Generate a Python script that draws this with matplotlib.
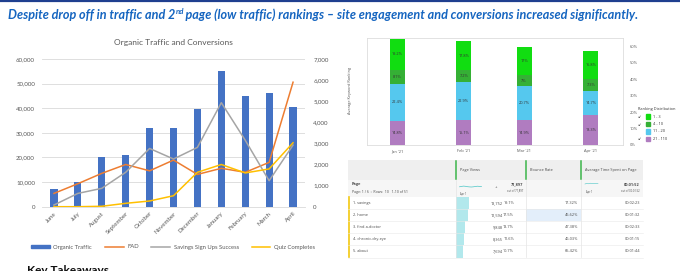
import numpy as np
import matplotlib
matplotlib.use("Agg")
import matplotlib.pyplot as plt
from matplotlib.patches import Rectangle, Patch
from matplotlib.lines import Line2D

W, H = 680, 271

# left chart data
months = ["June", "July", "August", "September", "October", "November",
          "December", "January", "February", "March", "April"]
organic_traffic = [7000, 10000, 20000, 21000, 31800, 31800, 39500, 55200, 45000, 46000, 40700]
fad = [630, 1090, 1580, 2000, 1700, 2210, 1530, 1820, 1630, 2100, 5900]
savings = [80, 630, 870, 1630, 2760, 2260, 2810, 4930, 3150, 1230, 2920]
quiz = [0, 0, 20, 160, 270, 520, 1630, 2000, 1600, 1790, 3030]

# ranking distribution data (percent)
rank_dates = ["2021-01-01", "2021-02-01", "2021-03-01", "2021-04-01"]
rank_labels = ["Jan '21", "Feb '21", "Mar '21", "Apr '21"]
rank_21_110 = [14.8, 15.1, 14.9, 18.3]
rank_11_20 = [22.4, 22.9, 20.7, 14.7]
rank_4_10 = [8.1, 7.2, 7.0, 7.3]
rank_1_3 = [19.2, 17.8, 17.0, 16.8]

# table data
pages = ["1. savings", "2. home", "3. find-a-doctor", "4. chronic-dry-eye", "5. about"]
page_views = [13752, 12594, 9848, 8365, 7694]
total_views = 71897
bounce_rate = ["17.32%", "45.62%", "47.38%", "46.03%", "65.42%"]
avg_time = ["00:02:23", "00:01:32", "00:02:33", "00:01:15", "00:01:44"]
pv_spark = [3.2, 3.6, 3.9, 3.7, 3.3, 3.1, 3.0, 3.2, 3.5, 3.8, 3.6, 3.4]
time_spark = [2.0, 2.6, 2.2, 2.8, 2.4, 2.7, 2.3, 2.5]

plt.rcParams['font.family'] = ['Lato', 'DejaVu Sans']

fig = plt.figure(figsize=(W / 100, H / 100), dpi=100)
fig.patch.set_facecolor("white")


def fx(x):
    return x / W


def fy(y):
    return 1 - y / H


# overlay in pixel coords
ov = fig.add_axes([0, 0, 1, 1])
ov.set_xlim(0, W)
ov.set_ylim(H, 0)
ov.axis("off")

ov.plot([0, W], [1.2, 1.2], color="#1f3f8f", lw=1.6)

# slide title with superscript
r = fig.canvas.get_renderer()
tkw = dict(fontsize=9.1, fontweight="bold", fontstyle="italic", color="#1565c0", va="baseline")
t1 = fig.text(fx(8), fy(19), "Despite drop off in traffic and 2", **tkw)
bb = t1.get_window_extent(r)
t2 = fig.text(bb.x1 / W, fy(14.5), "nd", **{**tkw, "fontsize": 5.6})
bb2 = t2.get_window_extent(r)
fig.text(bb2.x1 / W, fy(19),
         "\u2009page (low traffic) rankings \u2013 site engagement and conversions increased significantly.",
         **tkw)

fig.text(fx(27), fy(264.5), "Key Takeaways", fontsize=8.5, fontweight="bold", color="#111111", va="top")

# ---------------- left chart ----------------
ax = fig.add_axes([fx(42), fy(206.7), (305 - 42) / W, (206.7 - 59) / H])
x = np.arange(len(months))
ax.bar(x, organic_traffic, width=0.3, color="#4472c4", zorder=2)
ax.set_ylim(0, 60000)
ax.set_xlim(-0.5, len(months) - 0.5)
ax.set_yticks(np.arange(0, 60001, 10000))
ax.set_yticklabels([f"{v:,}" for v in range(0, 60001, 10000)])
ax.grid(axis="y", color="#d9d9d9", lw=0.6, zorder=0)
ax.set_axisbelow(True)
for s in ["top", "right", "left"]:
    ax.spines[s].set_visible(False)
ax.spines["bottom"].set_color("#d9d9d9")
ax.spines["bottom"].set_linewidth(0.6)
ax.tick_params(axis="both", length=0, labelsize=4.4, labelcolor="#595959")
ax.tick_params(axis="y", pad=5)
ax.set_xticks(x)
ax.set_xticklabels(months, rotation=45, ha="right", rotation_mode="anchor")
ax.tick_params(axis="x", pad=3)
ax.set_title("Organic Traffic and Conversions", fontsize=6, color="#595959", pad=10)

ax_r = ax.twinx()
ax_r.plot(x, fad, color="#ed7d31", lw=1.1, zorder=3)
ax_r.plot(x, savings, color="#a5a5a5", lw=1.1, zorder=3)
ax_r.plot(x, quiz, color="#ffc000", lw=1.1, zorder=3)
ax_r.set_ylim(0, 7000)
ax_r.set_yticks(np.arange(0, 7001, 1000))
ax_r.set_yticklabels([f"{v:,}" for v in range(0, 7001, 1000)])
for s in ax_r.spines.values():
    s.set_visible(False)
ax_r.tick_params(axis="y", length=0, labelsize=4.4, labelcolor="#595959", pad=6)

handles = [Patch(color="#4472c4"),
           Line2D([], [], color="#ed7d31", lw=1.1),
           Line2D([], [], color="#a5a5a5", lw=1.1),
           Line2D([], [], color="#ffc000", lw=1.1)]
fig.legend(handles, ["Organic Traffic", "FAD", "Savings Sign Ups Success", "Quiz Completes"],
           loc="center", bbox_to_anchor=(fx(173), fy(247)), ncol=4, frameon=False,
           fontsize=4.2, labelcolor="#595959", handlelength=3.2, handleheight=0.6,
           columnspacing=2.2, handletextpad=0.6)

# ---------------- ranking stacked chart ----------------
ax2 = fig.add_axes([fx(367), fy(145), (623 - 367) / W, (145 - 38.3) / H])
dates = np.array(rank_dates, dtype="datetime64[D]")
segments = [(rank_21_110, "#b07cc0"), (rank_11_20, "#55c8ee"),
            (rank_4_10, "#35b035"), (rank_1_3, "#11dd11")]
bottom = np.zeros(len(dates))
for vals, col in segments:
    ax2.bar(dates, vals, width=7, bottom=bottom, color=col, zorder=2)
    for d, v, b in zip(dates, vals, bottom):
        ax2.text(d, b + v / 2, ("%g" % v) + "%", ha="center", va="center",
                 fontsize=2.8, color="#333333", family="Open Sans")
    bottom = bottom + np.array(vals)
ax2.set_xlim(np.datetime64("2020-12-18"), np.datetime64("2021-04-16"))
ax2.set_ylim(0, 64.7)
ax2.set_xticks(dates)
ax2.set_xticklabels(rank_labels)
ax2.yaxis.tick_right()
ax2.set_yticks(np.arange(0, 61, 10))
ax2.set_yticklabels([f"{v}%" for v in range(0, 61, 10)])
ax2.tick_params(length=0, labelsize=2.9, labelcolor="#555555")
ax2.tick_params(axis="y", pad=5)
ax2.tick_params(axis="x", pad=3)
for lbl in ax2.get_xticklabels() + ax2.get_yticklabels():
    lbl.set_family("Open Sans")
for s in ax2.spines.values():
    s.set_color("#dddddd")
    s.set_linewidth(0.6)
fig.text(fx(350), fy(90), "Average Keyword Ranking", rotation=90, ha="center", va="center",
         fontsize=2.8, color="#555555", family="Open Sans")

# ranking legend
ov.text(638, 109, "Ranking Distribution", fontsize=2.8, color="#333333", va="center",
        family="Open Sans")
leg_names = ["1 - 3", "4 - 10", "11 - 20", "21 - 110"]
leg_cols = ["#11dd11", "#35b035", "#55c8ee", "#b07cc0"]
leg_check = [True, True, False, True]
for i, (nm, col, chk) in enumerate(zip(leg_names, leg_cols, leg_check)):
    yy = 116.7 + i * 7.4
    ov.add_patch(Rectangle((645.5, yy - 2.4), 4.8, 4.8, color=col))
    ov.text(653, yy, nm, fontsize=2.8, color="#333333", va="center", family="Open Sans")
    if chk:
        ov.text(639.5, yy + 0.6, "\u2199", fontsize=3.2, color="#333333", va="center",
                ha="center", family="DejaVu Sans")

# ---------------- table ----------------
tx0, tx1 = 348, 643
col_pv, col_br, col_at = 455.5, 526, 581
ov.add_patch(Rectangle((tx0, 160), tx1 - tx0, 20, color="#efefef", lw=0))
ov.add_patch(Rectangle((tx0, 180), tx1 - tx0, 17, color="#f6f6f6", lw=0))
for cx in [col_pv, col_br, col_at]:
    ov.plot([cx, cx], [161, 179], color="#3cb54a", lw=1.1)
    ov.plot([cx, cx], [180, 257], color="#e4e4e4", lw=0.5)
tfs = 2.8
tk = dict(family="Open Sans", color="#4a4a4a", va="center")
ov.text(col_pv + 4, 170, "Page Views", fontsize=tfs, **tk)
ov.text(col_br + 4, 170, "Bounce Rate", fontsize=tfs, **tk)
ov.text(col_at + 4, 170, "Average Time Spent on Page", fontsize=tfs, **tk)

ov.text(352, 184.5, "Page", fontsize=tfs, fontweight="bold", **tk)
ov.text(352, 192, "Page: 1 / 6  \u203a  Rows:  10   1-10 of 51", fontsize=2.5, **tk)
sx = np.linspace(col_pv + 4, col_pv + 26, len(pv_spark))
ov.plot(sx, 190 - np.array(pv_spark), color="#49c5c5", lw=0.5)
ov.text(col_pv + 5, 194.5, "Apr 1", fontsize=1.8, **tk)
ov.text(495, 187, "+", fontsize=3.2, **tk)
ov.text(523, 184.5, f"{total_views:,}", fontsize=tfs, fontweight="bold", ha="right", **tk)
ov.text(523, 190.5, f"out of {total_views:,}", fontsize=1.9, ha="right", **tk)
sx2 = np.linspace(col_at + 4, col_at + 17, len(time_spark))
ov.plot(sx2, 186 - np.array(time_spark), color="#49c5c5", lw=0.4)
ov.text(col_at + 5, 192.5, "Apr 1", fontsize=1.8, **tk)
ov.text(640, 184.5, "00:01:52", fontsize=tfs, fontweight="bold", ha="right", **tk)
ov.text(640, 190.5, "out of 00:01:52", fontsize=1.9, ha="right", **tk)

ov.plot([349.3, 349.3], [197, 257], color="#f2c811", lw=1.2)
row_h = 12.1
for i, (pg, pv, br, at) in enumerate(zip(pages, page_views, bounce_rate, avg_time)):
    y0 = 197 + i * row_h
    yc = y0 + row_h / 2
    ov.plot([tx0, tx1], [y0 + row_h, y0 + row_h], color="#e8e8e8", lw=0.4)
    if i == 1:
        ov.add_patch(Rectangle((col_br, y0), col_at - col_br, row_h, color="#e3eefa", lw=0))
    ov.add_patch(Rectangle((col_pv, y0), (col_br - col_pv) * pv / total_views, row_h,
                           color="#b2e8ec", lw=0))
    ov.text(353, yc, pg, fontsize=tfs, **tk)
    ov.text(503, yc, f"{pv:,}", fontsize=tfs, ha="right", **tk)
    ov.text(514, yc, f"{pv / total_views * 100:.1f}%", fontsize=tfs, ha="right", **tk)
    ov.text(578, yc, br, fontsize=tfs, ha="right", **tk)
    ov.text(640, yc, at, fontsize=tfs, ha="right", **tk)

fig.savefig("out.png", dpi=100)
